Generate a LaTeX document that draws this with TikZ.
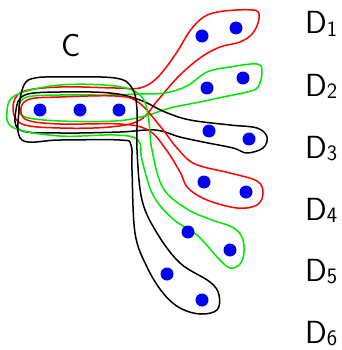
\documentclass[tikz,border=0pt]{standalone}
\usepackage{xcolor}
\usepackage{tikz}
\definecolor{hred}{HTML}{FF0000}
\definecolor{hgreen}{HTML}{00E600}
\definecolor{hblue}{HTML}{0000F0}
\newcommand{\lsub}[1]{\raisebox{-2.5pt}{\fontsize{22}{26}\selectfont #1}}

\begin{document}
\begin{tikzpicture}[x=1pt,y=-1pt,
  dot/.style={circle,fill=hblue,inner sep=0pt,minimum size=13pt},
  lbl/.style={font=\fontsize{32}{38}\selectfont\sffamily,anchor=base west,inner sep=0pt},
  hedge/.style={line width=1.5pt,line join=round}]
  \useasboundingbox (0,0) rectangle (341,350);
  % loops, one per D
  \draw[hedge,hred] plot[smooth cycle,tension=0.6] coordinates {(60,87) (115,88) (140,88)
    (157,78) (175,55) (193,27) (213,13) (253,10) (259,18) (253,33) (240,42) (220,47)
    (200,58) (178,77) (158,100) (140,120) (110,127) (60,128) (22,124) (13,108) (22,92)};
  \draw[hedge,hgreen] plot[smooth cycle,tension=0.6] coordinates {(60,95) (110,95) (140,94)
    (165,93) (187,86) (207,72) (230,67) (257,64) (262,72) (258,87) (247,92) (223,97)
    (200,102) (170,108) (145,116) (115,121) (60,121) (25,117) (19,107) (27,97)};
  \draw[hedge,black] plot[smooth cycle,tension=0.6] coordinates {(60,92) (110,93) (140,100)
    (165,112) (190,120) (230,125) (257,128) (267,137) (263,148) (247,153) (233,148)
    (203,142) (180,137) (155,130) (120,132) (60,133) (20,130) (16,110) (25,95)};
  \draw[hedge,hred] plot[smooth cycle,tension=0.6] coordinates {(60,97) (115,96) (138,102)
    (160,126) (177,148) (195,164) (230,173) (257,181) (263,193) (257,205) (237,208)
    (207,200) (188,188) (180,172) (165,148) (148,130) (120,124) (60,124) (27,120)
    (21,108) (30,99)};
  \draw[hedge,hgreen] plot[smooth cycle,tension=0.6] coordinates {(60,85) (115,86) (140,95)
    (148,115) (152,150) (163,188) (187,209) (212,220) (232,227) (242,237) (244,252)
    (240,264) (230,268) (218,258) (197,235) (173,219) (153,195) (142,160) (138,140)
    (115,135) (60,136) (14,128) (7,112) (16,95)};
  \draw[hedge,black] plot[smooth cycle,tension=0.6] coordinates {(60,77) (115,78) (132,88)
    (137,110) (137,150) (142,200) (157,233) (180,263) (210,282) (219,295) (217,310)
    (200,314) (180,308) (163,293) (147,267) (135,233) (132,170) (131,145) (120,140)
    (60,140) (22,140) (19,110) (24,85) (35,78)};
  % vertices
  \node[dot] (c1) at (40,110) {};
  \node[dot] (c2) at (80,110) {};
  \node[dot] (c3) at (119,110) {};
  \node[dot] (d1a) at (202,36) {};  \node[dot] (d1b) at (236,28) {};
  \node[dot] (d2a) at (207,88) {};  \node[dot] (d2b) at (243,78) {};
  \node[dot] (d3a) at (209,131) {}; \node[dot] (d3b) at (249,139) {};
  \node[dot] (d4a) at (204,182) {}; \node[dot] (d4b) at (246,192) {};
  \node[dot] (d5a) at (188,232) {}; \node[dot] (d5b) at (230,250) {};
  \node[dot] (d6a) at (167,274) {}; \node[dot] (d6b) at (202,300) {};
  % labels
  \node[lbl] (lc) at (61,57) {C};
  \foreach \i/\y in {1/34,2/96,3/158,4/220,5/281,6/343}
    \node[lbl] (ld\i) at (305,\y) {D\lsub{\i}};
\end{tikzpicture}
\end{document}
